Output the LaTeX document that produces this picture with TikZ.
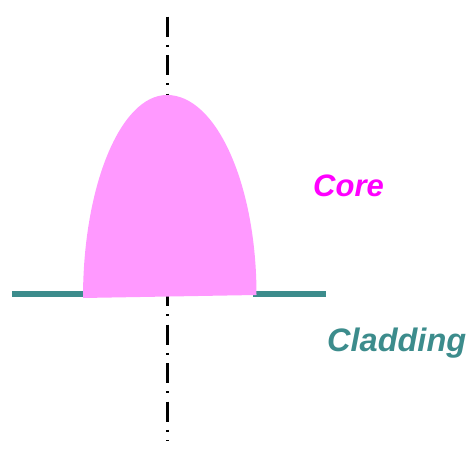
\documentclass[tikz,border=0pt]{standalone}
\usepackage{fontspec}
\newfontfamily\arialf{Liberation Sans}
\definecolor{corepink}{HTML}{FF99FF}
\definecolor{coremag}{HTML}{FF00FF}
\definecolor{cladteal}{HTML}{3C8C8C}
\tikzset{
  axisline/.style={line width=3pt, black, dash pattern=on 20pt off 8.3pt on 2pt off 8.2pt},
  cladline/.style={line width=6pt, cladteal},
  lbl/.style={inner sep=0pt, anchor=base west, font=\arialf\bfseries\itshape}
}
\begin{document}
\begin{tikzpicture}[x=1pt,y=1pt]
\useasboundingbox (0,0) rectangle (474,462);
% axis
\coordinate (axtop) at (167,445.3);
\coordinate (axbot) at (167,21);
\draw[axisline] (axtop) -- (axbot);
% cladding line (two visible segments)
\coordinate (cl1) at (12,168);
\coordinate (cl2) at (84,168);
\coordinate (cr1) at (253,168);
\coordinate (cr2) at (326,168);
\draw[cladline] (cl1) -- (cl2);
\draw[cladline] (cr1) -- (cr2);
% core profile
\coordinate (bl) at (83,164);
\coordinate (tp) at (167,367);
\coordinate (br) at (256.5,167);
\fill[corepink] (bl) arc[start angle=180, end angle=90, x radius=84, y radius=203]
  arc[start angle=90, end angle=0, x radius=89.5, y radius=200] -- cycle;
% labels
\node[lbl, text=coremag, font=\arialf\bfseries\itshape\fontsize{31}{31}\selectfont] (core) at (313,265.3) {Core};
\node[lbl, text=cladteal, font=\arialf\bfseries\itshape\fontsize{32.5}{32.5}\selectfont] (clad) at (327,110.3) {Cladding};
\end{tikzpicture}
\end{document}
